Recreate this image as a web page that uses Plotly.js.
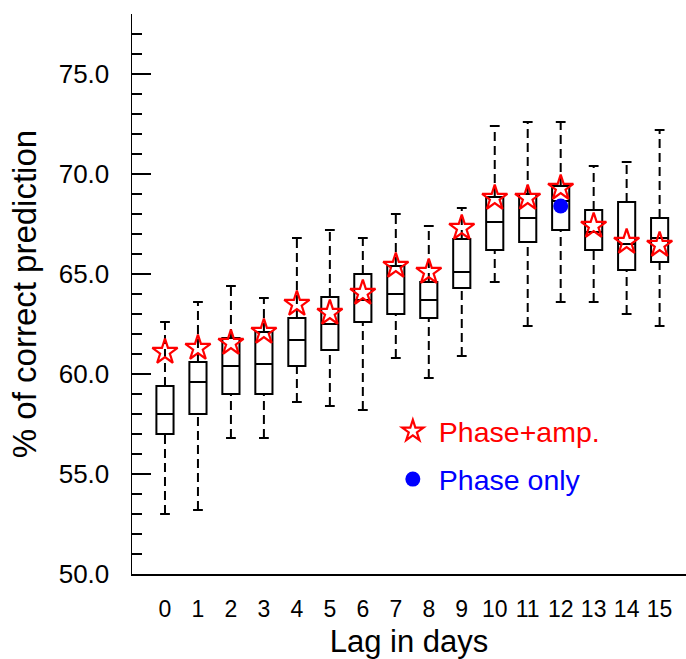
<!DOCTYPE html>
<html>
<head>
<meta charset="utf-8">
<script src="https://cdn.plot.ly/plotly-3.0.1.min.js"></script>
<style>html,body{margin:0;padding:0;background:#fff;}#chart{width:686px;height:659px;}</style>
</head>
<body>
<div id="chart"></div>
<script>
// Lag in days
const lags = [0,1,2,3,4,5,6,7,8,9,10,11,12,13,14,15];
// Box statistics (% of correct prediction)
const whiskerLow  = [53.0,53.2,56.8,56.8,58.6,58.4,58.2,60.8,59.8,60.9,64.6,62.4,63.6,63.6,63.0,62.4];
const q1          = [57.0,58.0,59.0,59.0,60.4,61.2,62.6,63.0,62.8,64.3,66.2,66.6,67.2,66.2,65.2,65.6];
const medians     = [58.0,59.6,60.4,60.5,61.7,62.5,63.7,64.0,63.7,65.1,67.6,67.8,68.65,67.1,66.5,66.8];
const q3          = [59.4,60.6,61.8,62.1,62.8,63.85,65.0,65.4,64.6,66.75,68.85,69.0,69.4,68.2,68.6,67.8];
const whiskerHigh = [62.6,63.6,64.4,63.8,66.8,67.2,66.8,68.0,67.4,68.3,72.4,72.6,72.6,70.4,70.6,72.2];
// Phase+amplitude predictions
const phaseAmp    = [61.1,61.3,61.55,62.1,63.5,63.05,64.05,65.4,65.1,67.3,68.8,68.8,69.3,67.4,66.6,66.45];
// Phase only
const phaseOnlyLag = [12];
const phaseOnly    = [68.4];

const tickLabels = lags.map(String);

const font = 'Liberation Sans, Arial, Helvetica, sans-serif';

// dashed whiskers
const wx = [], wy = [];
lags.forEach((l, i) => {
  wx.push(l, l, null, l, l, null);
  wy.push(whiskerLow[i], q1[i], null, q3[i], whiskerHigh[i], null);
});

const traces = [
  {
    type: 'scatter', mode: 'lines', x: wx, y: wy,
    line: {color: 'black', width: 2, dash: '9px,5px'},
    showlegend: false, hoverinfo: 'skip'
  },
  {
    type: 'scatter', mode: 'markers',
    x: lags.concat(lags), y: whiskerLow.concat(whiskerHigh),
    marker: {symbol: 'line-ew', size: 7, line: {color: 'black', width: 2}},
    showlegend: false, hoverinfo: 'skip'
  },
  {
    type: 'box', x: lags, q1: q1, median: medians, q3: q3,
    lowerfence: q1, upperfence: q3,
    fillcolor: 'white', line: {color: 'black', width: 2},
    width: 0.52, whiskerwidth: 0, boxpoints: false,
    showlegend: false, hoverinfo: 'skip'
  },
  {
    type: 'scatter', mode: 'markers', x: lags, y: phaseAmp,
    name: '<span style="color:#ff0000">Phase+amp.</span>',
    legendgroup: 'a',
    marker: {symbol: 'star-open', size: 19, color: '#ff0000', line: {color: '#ff0000', width: 2.2}}
  },
  {
    type: 'scatter', mode: 'markers', x: phaseOnlyLag, y: phaseOnly,
    name: '<span style="color:#0000ff">Phase only</span>',
    legendgroup: 'b',
    marker: {symbol: 'circle', size: 15, color: '#0000ff'}
  }
];

const layout = {
  width: 686, height: 659,
  margin: {l: 132, r: 0, t: 14, b: 85},
  paper_bgcolor: 'white', plot_bgcolor: 'white',
  font: {family: font, color: 'black', size: 24},
  showlegend: true,
  legend: {
    x: 0.46, y: 0.30, xanchor: 'left', yanchor: 'top',
    bgcolor: 'rgba(0,0,0,0)', borderwidth: 0,
    font: {family: font, size: 28.5},
    itemwidth: 42,
    tracegroupgap: 8
  },
  xaxis: {
    range: [-1, 15.8],
    tickmode: 'array', tickvals: lags, ticktext: tickLabels,
    showline: true, linecolor: 'black', linewidth: 1.5,
    ticks: '', showgrid: false, zeroline: false,
    ticklabelstandoff: 14,
    tickfont: {family: font, size: 23},
    title: {text: 'Lag in days', font: {family: font, size: 31}, standoff: 15}
  },
  yaxis: {
    range: [50, 78],
    tickmode: 'linear', tick0: 50, dtick: 5, tickformat: '.1f',
    ticks: 'inside', ticklen: 19, tickwidth: 1.5, tickcolor: 'black',
    minor: {dtick: 1, ticks: 'inside', ticklen: 10, tickwidth: 1.2, tickcolor: 'black', showgrid: false},
    showline: true, linecolor: 'black', linewidth: 1.5,
    showgrid: false, zeroline: false,
    ticklabelstandoff: 16,
    tickfont: {family: font, size: 26},
    title: {text: '% of correct prediction', font: {family: font, size: 33}, standoff: 12}
  }
};

Plotly.newPlot('chart', traces, layout, {displayModeBar: false, staticPlot: true});
</script>
</body>
</html>
